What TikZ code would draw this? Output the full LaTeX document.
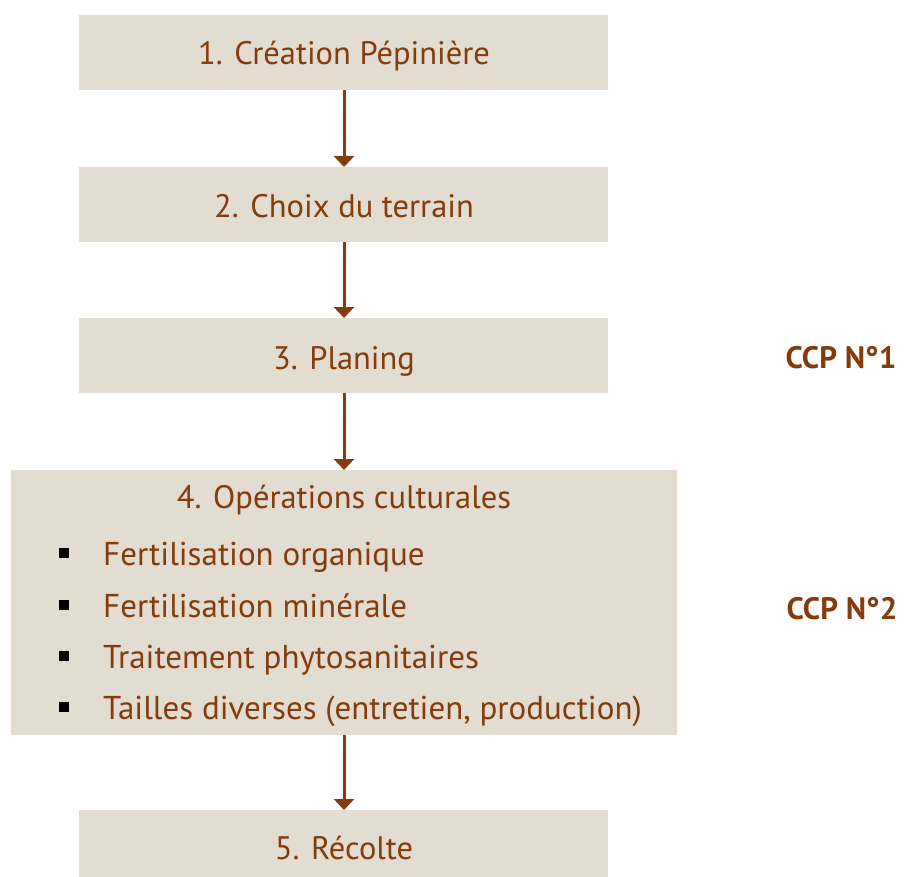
\documentclass[tikz,border=0pt]{standalone}
\usepackage{fontspec}
\setmainfont{PT Sans}
\usetikzlibrary{arrows.meta}
\definecolor{boxfill}{RGB}{227,220,208}
\definecolor{brown}{RGB}{132,60,12}
\tikzset{
  stepbox/.style={fill=boxfill, draw=none},
  label/.style={text=brown, font=\fontsize{32.5}{36}\selectfont, inner sep=0pt, anchor=base},
  itemtext/.style={text=brown, font=\fontsize{33}{36}\selectfont, inner sep=0pt, anchor=base west},
  ccp/.style={text=brown, font=\fontsize{31}{36}\selectfont\bfseries, inner sep=0pt, anchor=base},
  flow/.style={draw=brown, line width=3pt, -{Triangle[length=11pt,width=20pt]}},
  bulletsq/.style={fill=black, minimum size=10pt, inner sep=0pt, draw=none}
}
\begin{document}
\begin{tikzpicture}[x=1pt, y=-1pt]
\useasboundingbox (0,0) rectangle (907,877);
% process boxes
\fill[stepbox] (79,15) rectangle (608,90);
\coordinate (b1b) at (344,90);
\fill[stepbox] (79,167) rectangle (608,242);
\coordinate (b2t) at (344,167); \coordinate (b2b) at (344,242);
\fill[stepbox] (79,318) rectangle (608,393);
\coordinate (b3t) at (344,318); \coordinate (b3b) at (344,393);
\fill[stepbox] (11,470) rectangle (677,735);
\coordinate (b4t) at (344,470); \coordinate (b4b) at (344,735);
\fill[stepbox] (79,810) rectangle (608,877);
\coordinate (b5t) at (344,810);
% titles
\node[label] (t1) at (344,65) {1. Création Pépinière};
\node[label] (t2) at (344,218) {2. Choix du terrain};
\node[label] (t3) at (344,369) {3. Planing};
\node[label] (t4) at (344,508) {4. Opérations culturales};
\node[label] (t5) at (344,859) {5. Récolte};
% bullet list
\node[bulletsq] (s1) at (64,553) {};
\node[itemtext] (i1) at (103,565) {Fertilisation organique};
\node[bulletsq] (s2) at (64,605) {};
\node[itemtext] (i2) at (103,617) {Fertilisation minérale};
\node[bulletsq] (s3) at (64,656) {};
\node[itemtext] (i3) at (103,668) {Traitement phytosanitaires};
\node[bulletsq] (s4) at (64,707) {};
\node[itemtext] (i4) at (103,719) {Tailles diverses (entretien, production)};
% critical control points
\node[ccp] (c1) at (841,368) {CCP N°1};
\node[ccp] (c2) at (842,619) {CCP N°2};
% connectors
\draw[flow] (b1b) -- (b2t);
\draw[flow] (b2b) -- (b3t);
\draw[flow] (b3b) -- (b4t);
\draw[flow] (b4b) -- (b5t);
\end{tikzpicture}
\end{document}
